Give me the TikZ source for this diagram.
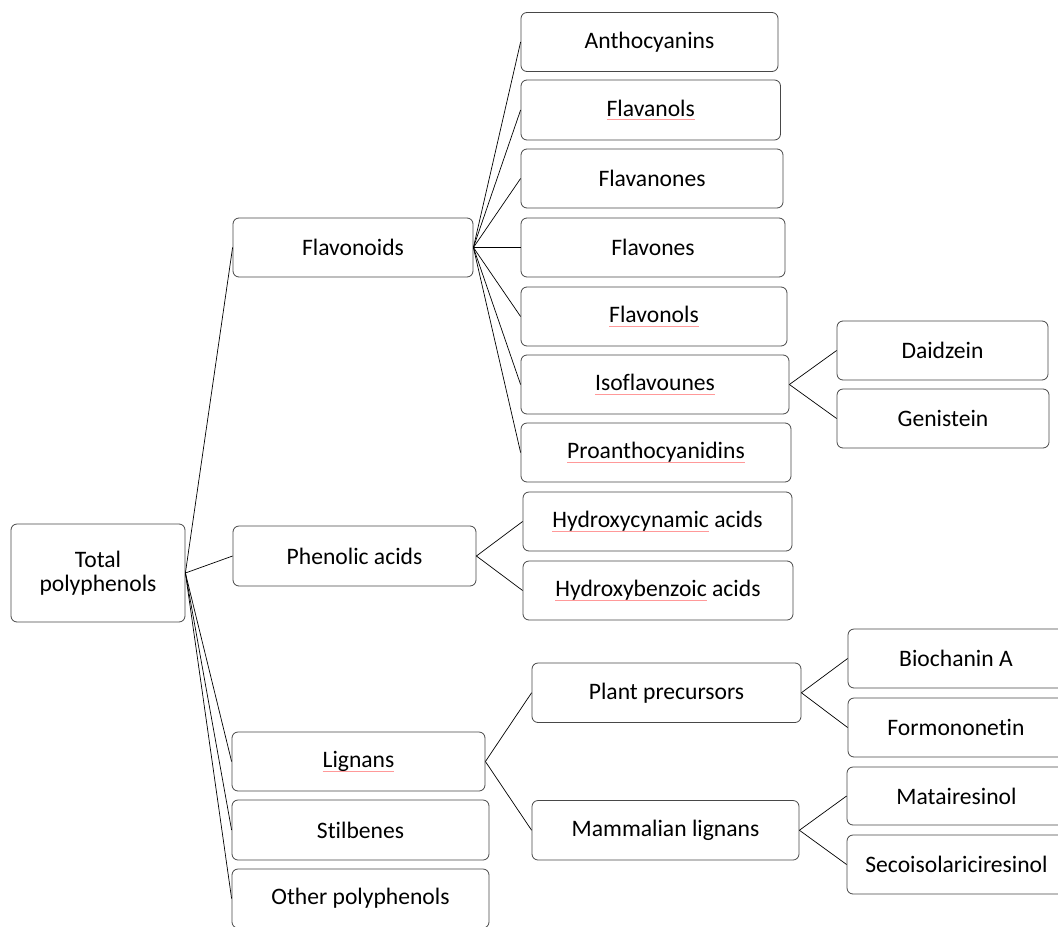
\documentclass[tikz,border=0pt]{standalone}
\usepackage{fontspec}
\setmainfont[Ligatures={NoCommon,NoRequired,NoContextual}]{Carlito}
\newcommand\squig[1]{\setbox0\hbox{#1}\rlap{\textcolor{red!40}{\rule[-3.8bp]{\wd0}{0.7bp}}}\box0\relax}
\tikzset{
  box/.style={draw=black!72, line width=0.8bp, rounded corners=6bp, fill=white,
    inner sep=0pt, align=center, font=\fontsize{23.6bp}{24.5bp}\selectfont, text=black},
  link/.style={draw=black, line width=0.7bp},
}
\newcommand\bx[7]{% name, left, top, right, bottom, text
  \node[box, minimum width={(#4-#2)*1bp}, minimum height={(#5-#3)*1bp}]
    (#1) at ({(#2+#4)/2},{(#3+#5)/2}) {#6};}
\begin{document}
\begin{tikzpicture}[x=1bp,y=-1bp]
\useasboundingbox (0,0) rectangle (1058,927);
\clip (0,0) rectangle (1058,927);
\bx{tot}{11}{524}{185}{622}{Total\\polyphenols}{}
\bx{flavd}{233}{218}{473}{277}{Flavonoids}{}
\bx{phen}{233}{526}{476}{586}{Phenolic acids}{}
\bx{lign}{232}{732}{485}{791}{\squig{Lignans}}{}
\bx{stil}{232}{800}{489}{860}{Stilbenes}{}
\bx{oth}{232}{869}{489}{928}{Other polyphenols}{}
\bx{anth}{521}{12.5}{778}{71.5}{Anthocyanins}{}
\bx{flava}{521}{80}{780.5}{140}{\squig{Flavanols}}{}
\bx{flavn}{521}{149}{783}{208}{Flavanones}{}
\bx{flave}{521}{218}{785}{277}{Flavones}{}
\bx{flavo}{521}{287}{787}{346}{\squig{Flavonols}}{}
\bx{iso}{521}{355}{789}{414}{\squig{Isoflavounes}}{}
\bx{proa}{521}{423}{791}{482}{\squig{Proanthocyanidins}}{}
\bx{daid}{837}{321}{1048}{380}{Daidzein}{}
\bx{geni}{837}{389}{1049}{448}{Genistein}{}
\bx{hcin}{523}{492}{792}{551}{\squig{Hydroxycynamic} acids}{}
\bx{hben}{523}{561}{793}{620}{\squig{Hydroxybenzoic} acids}{}
\bx{plant}{532}{663}{801}{722.5}{Plant precursors}{}
\bx{mamm}{532}{800.5}{799}{860}{Mammalian lignans}{}
\bx{bioc}{848}{629}{1064}{688}{Biochanin A}{}
\bx{form}{848}{698}{1064}{757}{Formononetin}{}
\bx{mata}{847}{767}{1066}{825}{Matairesinol}{}
\bx{seco}{847}{835}{1066}{894}{Secoisolariciresinol}{}
\foreach \c in {flavd,phen,lign,stil,oth} \draw[link] (tot.east) -- (\c.west);
\foreach \c in {anth,flava,flavn,flave,flavo,iso,proa} \draw[link] (flavd.east) -- (\c.west);
\foreach \c in {daid,geni} \draw[link] (iso.east) -- (\c.west);
\foreach \c in {hcin,hben} \draw[link] (phen.east) -- (\c.west);
\foreach \c in {plant,mamm} \draw[link] (lign.east) -- (\c.west);
\foreach \c in {bioc,form} \draw[link] (plant.east) -- (\c.west);
\foreach \c in {mata,seco} \draw[link] (mamm.east) -- (\c.west);
\end{tikzpicture}
\end{document}
